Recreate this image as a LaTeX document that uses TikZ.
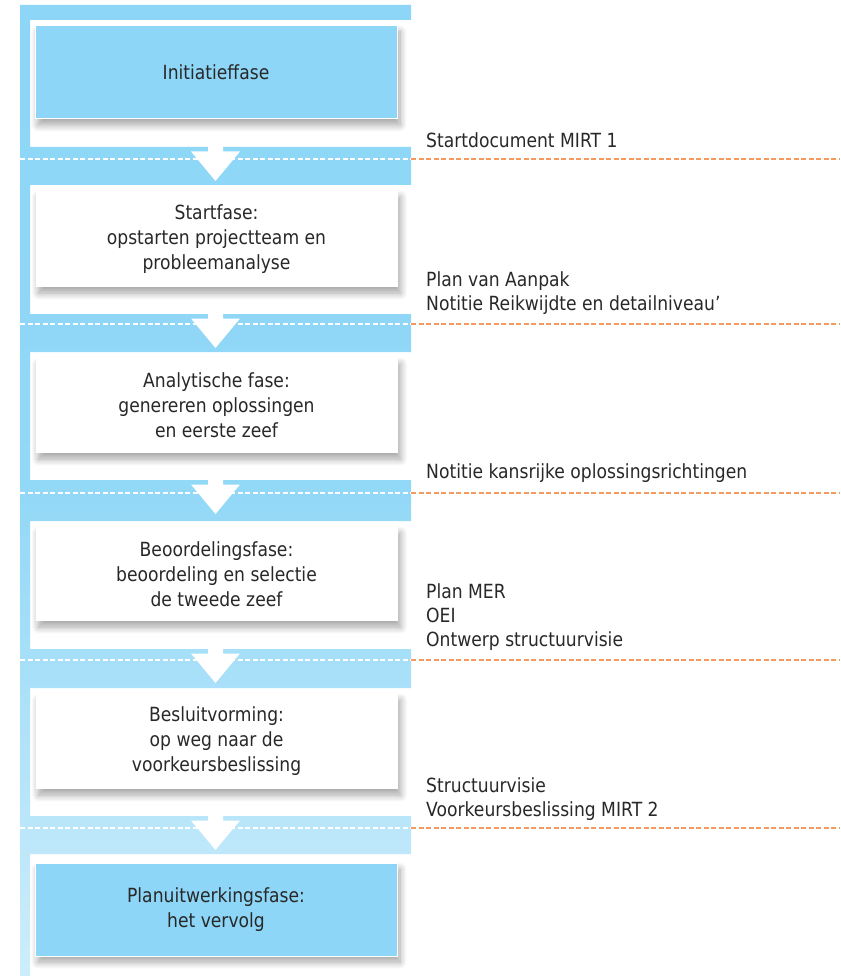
\documentclass[tikz,border=0pt]{standalone}
\usepackage{fontspec}
\setmainfont[FakeStretch=0.88]{DejaVu Sans}
\usetikzlibrary{shadows.blur}
\definecolor{bandblue}{HTML}{8DD6F7}
\definecolor{bandmid}{HTML}{92D8F7}
\definecolor{bandlight}{HTML}{CDEDFB}
\definecolor{txt}{HTML}{282828}
\definecolor{orng}{HTML}{F49A5E}
\tikzset{
 phasebox/.style={minimum width=362pt, inner sep=0pt, align=center, text=txt,
   font=\fontsize{19.5}{25}\selectfont,
   blur shadow={shadow xshift=3pt, shadow yshift=-6pt, shadow blur radius=7pt, shadow blur steps=10, shadow opacity=36}},
 whitebox/.style={phasebox, fill=white},
 bluebox/.style={phasebox, fill=bandblue, draw=white, line width=1pt},
 outtxt/.style={anchor=base west, inner sep=0pt, text=txt, font=\fontsize{19.5}{24}\selectfont},
 sepline/.style={dash pattern=on 5pt off 2.5pt, line width=1.1pt},
 flowarrow/.style={fill=white, draw=none},
}
\begin{document}
\begin{tikzpicture}[x=1pt,y=-1pt]
\useasboundingbox (0,0) rectangle (840,976);
% blue frame: top strip, left strip and bands
\shade[top color=bandblue, bottom color=bandlight, middle color=bandmid]
  (20,5) rectangle (411,20)
  (20,5) rectangle (30,976)
  (20,147) rectangle (411,185)
  (20,314) rectangle (411,352)
  (20,480) rectangle (411,521)
  (20,649) rectangle (411,688)
  (20,816) rectangle (411,854);
% phase boxes
\node[bluebox, minimum height=93pt] (b1) at (216,72.5) {Initiatieffase};
\node[whitebox, minimum height=96pt] (b2) at (216.5,239) {Startfase:\\opstarten projectteam en\\probleemanalyse};
\node[whitebox, minimum height=95pt] (b3) at (216.5,405.5) {Analytische fase:\\genereren oplossingen\\en eerste zeef};
\node[whitebox, minimum height=94pt] (b4) at (216.5,574) {Beoordelingsfase:\\beoordeling en selectie\\de tweede zeef};
\node[whitebox, minimum height=95pt] (b5) at (216.5,741.5) {Besluitvorming:\\op weg naar de\\voorkeursbeslissing};
\node[bluebox, minimum height=93pt] (b6) at (216,909.5) {Planuitwerkingsfase:\\het vervolg};
% arrows
\foreach \t in {147,314,480,649,816}{
  \fill[flowarrow, shift={(215.5,\t)}] (-7.5,-6) -- (7.5,-6) -- (7.5,4.5) -- (24.5,4.5) -- (0,34) -- (-24.5,4.5) -- (-7.5,4.5) -- cycle;
}
% separator lines
\foreach \d in {159,324,493,660,828}{
  \coordinate (l\d) at (20,\d);
  \coordinate (m\d) at (411,\d);
  \coordinate (r\d) at (840,\d);
  \draw[sepline, white] (l\d) -- (m\d);
  \draw[sepline, orng] (m\d) -- (r\d);
}
% outputs
\node[outtxt] (o1) at (426,148) {Startdocument MIRT 1};
\node[outtxt] (o2a) at (426,286) {Plan van Aanpak};
\node[outtxt] (o2b) at (426,310) {Notitie Reikwijdte en detailniveau’};
\node[outtxt] (o3) at (426,478) {Notitie kansrijke oplossingsrichtingen};
\node[outtxt] (o4a) at (426,598) {Plan MER};
\node[outtxt] (o4b) at (426,622) {OEI};
\node[outtxt] (o4c) at (426,646) {Ontwerp structuurvisie};
\node[outtxt] (o5a) at (426,792) {Structuurvisie};
\node[outtxt] (o5b) at (426,816) {Voorkeursbeslissing MIRT 2};
\end{tikzpicture}
\end{document}
